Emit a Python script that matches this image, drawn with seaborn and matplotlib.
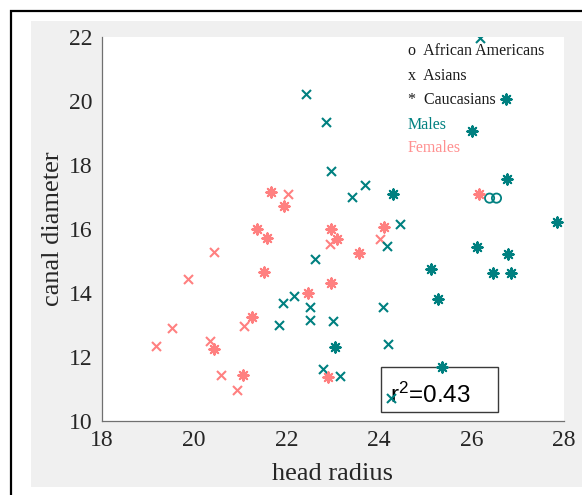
import matplotlib
matplotlib.use("Agg")
import numpy as np
import pandas as pd
import matplotlib.pyplot as plt
from matplotlib.patches import Rectangle
from matplotlib.lines import Line2D
import seaborn as sns

# ---------------- data ----------------
male_asian_x = [26.18, 22.43, 22.86, 22.95, 23.70, 23.42, 24.45, 24.17, 22.62, 22.15,
                21.93, 21.83, 22.51, 22.51, 23.00, 24.09, 24.19, 22.78, 23.16, 24.25]
male_asian_y = [21.97, 20.22, 19.36, 17.83, 17.37, 16.99, 16.17, 15.48, 15.08, 13.90,
                13.68, 13.01, 13.56, 13.17, 13.13, 13.55, 12.40, 11.64, 11.40, 10.72]

male_cauc_x = [26.74, 26.02, 26.76, 24.30, 27.84, 26.12, 26.78, 25.12, 26.47, 26.86,
               25.28, 23.04, 25.37]
male_cauc_y = [20.06, 19.07, 17.57, 17.11, 16.22, 15.43, 15.22, 14.75, 14.63, 14.64,
               13.82, 12.31, 11.69]

male_afam_x = [26.39, 26.54]
male_afam_y = [16.97, 16.97]

female_asian_x = [22.03, 20.43, 19.86, 22.94, 24.02, 19.53, 19.17, 20.35, 21.07, 20.57, 20.92]
female_asian_y = [17.09, 15.28, 14.45, 15.55, 15.68, 12.91, 12.34, 12.49, 12.97, 11.43, 10.98]

female_cauc_x = [21.66, 21.95, 21.36, 21.57, 22.97, 23.08, 24.10, 23.57, 21.52, 22.96,
                 22.46, 21.26, 20.43, 21.06, 22.89, 26.17]
female_cauc_y = [17.17, 16.71, 16.00, 15.71, 16.02, 15.68, 16.07, 15.26, 14.65, 14.33,
                 13.99, 13.26, 12.24, 11.45, 11.38, 17.11]

x_ticks = [18, 20, 22, 24, 26, 28]
y_ticks = [10, 12, 14, 16, 18, 20, 22]
legend_lines = ["o  African Americans", "x  Asians", "*  Caucasians"]
sex_labels = ["Males", "Females"]
r2_text = r"$\mathregular{r^{2}}$=0.43"

# ---------------- table ----------------
parts = []
for xs, ys, sex, grp in [
    (male_asian_x, male_asian_y, "Males", "Asians"),
    (male_cauc_x, male_cauc_y, "Males", "Caucasians"),
    (male_afam_x, male_afam_y, "Males", "African Americans"),
    (female_asian_x, female_asian_y, "Females", "Asians"),
    (female_cauc_x, female_cauc_y, "Females", "Caucasians"),
]:
    parts.append(pd.DataFrame({"head radius": xs, "canal diameter": ys,
                               "sex": sex, "group": grp}))
df = pd.concat(parts, ignore_index=True)

TEAL = "#008080"
PINK = "#ff8080"
FEMALE_TXT = "#ff9090"
palette = {"Males": TEAL, "Females": PINK}

sns.set_theme(style="white")
plt.rcParams["font.family"] = ["Liberation Serif", "DejaVu Serif"]
plt.rcParams["mathtext.fontset"] = "custom"
plt.rcParams["mathtext.rm"] = "Liberation Sans"

W, H = 582, 495
fig = plt.figure(figsize=(W / 100, H / 100), dpi=100)
fig.patch.set_facecolor("white")

# gray panel + black frame (screenshot look)
fig.add_artist(Rectangle((31 / W, 8 / H), 1 - 31 / W, 466 / H, transform=fig.transFigure,
                         facecolor="#f0f0f0", edgecolor="none", zorder=-2))
fig.add_artist(Line2D([11 / W, 11 / W, 1.0], [0.0, 1 - 11 / H, 1 - 11 / H],
                      transform=fig.transFigure, color="black", lw=1.6, zorder=-1,
                      solid_joinstyle="miter"))

ax_l, ax_r, ax_t, ax_b = 101.7, 564.0, 37.3, 421.0
ax = fig.add_axes([ax_l / W, (H - ax_b) / H, (ax_r - ax_l) / W, (ax_b - ax_t) / H])
ax.set_facecolor("white")

# r^2 box (below markers)
ax.add_patch(Rectangle((0.605, 0.023), 0.252, 0.118, transform=ax.transAxes,
                       facecolor="none", edgecolor="#3a3a3a", lw=1.0, zorder=0.5))

markers = {"Asians": "x", "Caucasians": (8, 2, 0), "African Americans": "o"}
sizes = {"Asians": 42, "Caucasians": 55, "African Americans": 44}

for (grp, sex), sub in df.groupby(["group", "sex"]):
    col = palette[sex]
    kws = dict(data=sub, x="head radius", y="canal diameter", ax=ax, legend=False,
               marker=markers[grp], s=sizes[grp], zorder=3)
    if grp == "African Americans":
        sns.scatterplot(**kws, facecolor="none", edgecolor=col, linewidth=1.3)
    else:
        sns.scatterplot(**kws, color=col, linewidth=1.5)

ax.set_xlim(18, 28)
ax.set_ylim(10, 22)
ax.set_xticks(x_ticks)
ax.set_yticks(y_ticks)
ax.set_xticklabels([str(t) for t in x_ticks])
ax.set_yticklabels([str(t) for t in y_ticks])

spine_col = "#707070"
for s in ["top", "right"]:
    ax.spines[s].set_visible(False)
for s in ["left", "bottom"]:
    ax.spines[s].set_color(spine_col)
    ax.spines[s].set_linewidth(0.9)
ax.tick_params(direction="in", length=3, width=0.8, color=spine_col,
               labelcolor="#262626", labelsize=17, pad=6.5)

ax.set_xlabel("head radius", fontsize=19, color="#262626", va="center")
ax.set_ylabel("canal diameter", fontsize=19, color="#262626", va="center")
ax.xaxis.set_label_coords(0.5, (ax_b - 474) / (ax_b - ax_t))
ax.yaxis.set_label_coords((53 - ax_l) / (ax_r - ax_l), 0.5)

# legend-like text block
ys_frac = [0.954, 0.890, 0.825, 0.762, 0.700]
x_frac = (407.5 - ax_l) / (ax_r - ax_l)
for txt, yf in zip(legend_lines, ys_frac[:3]):
    ax.text(x_frac, yf, txt, transform=ax.transAxes, fontsize=11.5,
            color="#1a1a1a", va="baseline", ha="left")
ax.text(x_frac, ys_frac[3], sex_labels[0], transform=ax.transAxes, fontsize=11.5,
        color=TEAL, va="baseline", ha="left")
ax.text(x_frac, ys_frac[4], sex_labels[1], transform=ax.transAxes, fontsize=11.5,
        color=FEMALE_TXT, va="baseline", ha="left")

ax.text(0.623, 0.048, r2_text, transform=ax.transAxes, fontsize=17.5,
        family="Liberation Sans", color="black", va="baseline", ha="left", zorder=2)

fig.savefig("out.png", dpi=100)
